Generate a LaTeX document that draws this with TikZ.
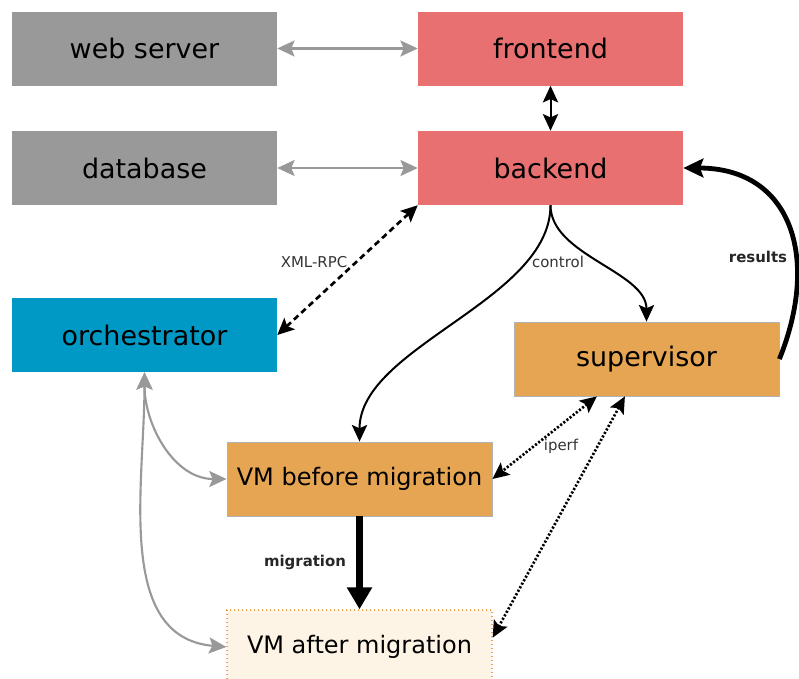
\documentclass[tikz,border=0pt]{standalone}
\usepackage{fontspec}
\setmainfont{DejaVu Sans}
\usetikzlibrary{arrows.meta}
\definecolor{boxgray}{HTML}{999999}
\definecolor{boxred}{HTML}{E87070}
\definecolor{boxblue}{HTML}{0099C6}
\definecolor{boxorange}{HTML}{E5A552}
\definecolor{boxcream}{HTML}{FEF4E6}
\definecolor{labelgray}{HTML}{333333}
\tikzset{
	box/.style={rectangle,minimum width=198.75pt,minimum height=55.5pt,inner sep=0pt,font=\fontsize{20.2}{24}\selectfont},
	vmbox/.style={box,font=\fontsize{18}{22}\selectfont},
	lbl/.style={font=\fontsize{11.2}{13}\selectfont,text=labelgray},
	tip/.style={Stealth[length=12.5pt,width=11.5pt,inset=2.5pt]},
	graylink/.style={draw=boxgray,line width=1.6pt,{Stealth[length=13pt,width=12pt,inset=2.5pt]}-{Stealth[length=13pt,width=12pt,inset=2.5pt]}},
	blacklink/.style={line width=1.5pt,{Stealth[length=12.5pt,width=11.5pt,inset=2.5pt]}-{Stealth[length=12.5pt,width=11.5pt,inset=2.5pt]}},
	dotlink/.style={line width=2pt,dash pattern=on 1.6pt off 1.4pt,{Stealth[length=12.5pt,width=11.5pt,inset=2.5pt]}-{Stealth[length=12.5pt,width=11.5pt,inset=2.5pt]}}
}
\begin{document}
\begin{tikzpicture}[x=0.75pt,y=0.75pt]
	\useasboundingbox (0,0) rectangle (799,-678);
	% Kasten
	\node[box,fill=boxgray] (web) at (144.5,-48.5) {web server};
	\node[box,fill=boxred] (front) at (550.5,-48.5) {frontend};
	\node[box,fill=boxgray] (db) at (144.5,-168) {database};
	\node[box,fill=boxred] (back) at (550.5,-168) {backend};
	\node[box,fill=boxblue] (orch) at (144.5,-335) {orchestrator};
	\node[box,fill=boxorange,draw=black!30,line width=0.6pt] (sup) at (646.5,-359) {supervisor};
	\node[vmbox,fill=boxorange,draw=black!30,line width=0.6pt] (vmbefore) at (359.5,-479) {VM before migration};
	\node[vmbox,fill=boxcream,draw=boxorange,line width=1pt,dotted] (vmafter) at (359.5,-647) {VM after migration};
	% Verbindungen
	\draw[graylink] (web) -- (front);
	\draw[graylink] (db) -- (back);
	\draw[blacklink] (front) -- (back);
	\draw[blacklink,line width=2pt,dash pattern=on 4.5pt off 3pt] (back.south west) -- (orch.east);
	\node[lbl] (xmlrpc) at (314,-262) {XML-RPC};
	\draw[line width=1.5pt,-{Stealth[length=12.5pt,width=11.5pt,inset=2.5pt]}] (back.south) to[out=-90,in=90,looseness=0.8] (vmbefore.north);
	\draw[line width=1.5pt,-{Stealth[length=12.5pt,width=11.5pt,inset=2.5pt]}] (back.south) to[out=-90,in=90,looseness=0.85] (sup.north);
	\node[lbl] (control) at (558,-262) {control};
	\draw[line width=3.6pt,-{Stealth[length=15pt,width=14pt,inset=2.5pt]}] (sup.east) to[out=68,in=0,looseness=1.3] (back.east);
	\node[lbl,text=black!85,font=\fontsize{11.2}{13}\selectfont\bfseries] (results) at (758,-257) {results};
	\draw[dotlink] (sup.217) -- (vmbefore.east);
	\node[lbl] (iperf) at (561,-446) {iperf};
	\draw[dotlink] (sup.240) -- (vmafter.4);
	\draw[line width=5.2pt,-{Triangle[length=16.5pt,width=18pt]}] (vmbefore) -- (vmafter);
	\node[lbl,text=black!85,font=\fontsize{11.2}{13}\selectfont\bfseries] (migration) at (305,-562) {migration};
	\draw[graylink] (orch.south) to[out=-90,in=180] (vmbefore.west);
	\draw[graylink] (orch.south) to[out=-90,in=175] (vmafter.west);
\end{tikzpicture}
\end{document}
